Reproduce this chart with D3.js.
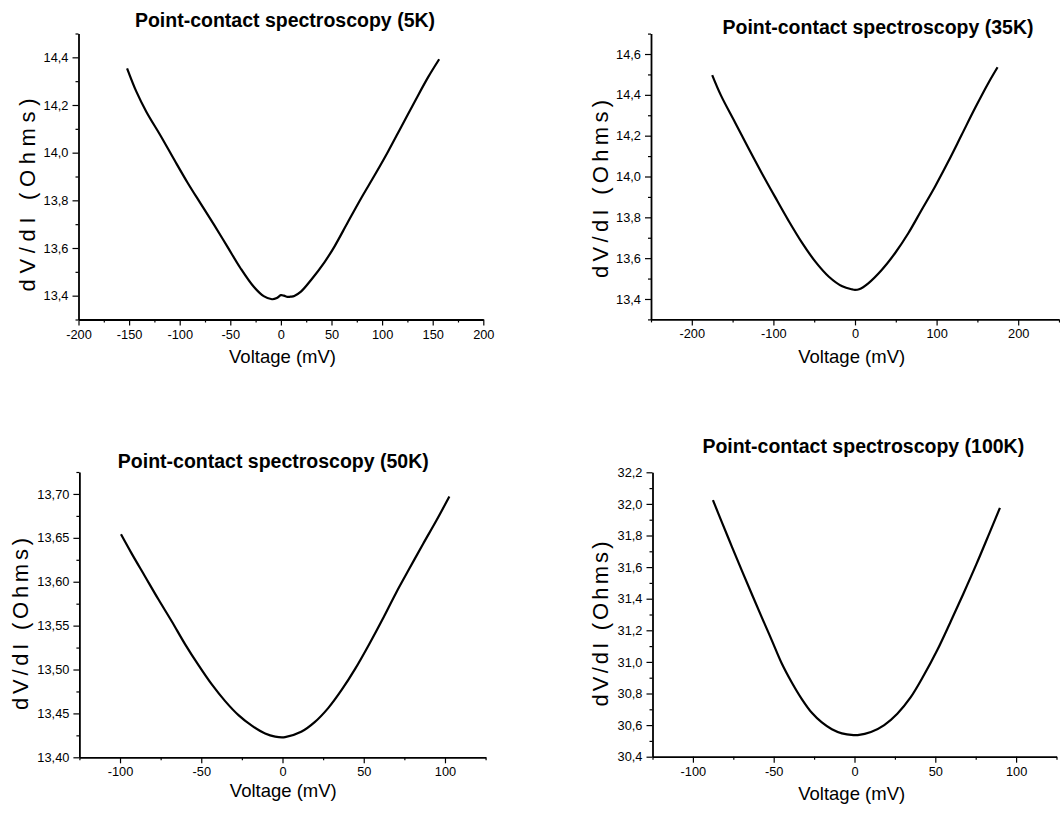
<!DOCTYPE html>
<html>
<head>
<meta charset="utf-8">
<script src="https://cdn.jsdelivr.net/npm/d3@7/dist/d3.min.js"></script>
<style>
  html, body { margin: 0; padding: 0; background: #fff; }
  svg { display: block; }
  text { font-family: "Liberation Sans", Arial, sans-serif; fill: #000; }
</style>
</head>
<body>
<svg id="chart" width="1060" height="813"></svg>
<script>
// ---- measured dV/dI curves (voltage in mV, resistance in Ohms) ----
const volt5K = [-152, -142.8, -133, -118.3, -105.2, -92.2, -79.1, -66, -52.9, -39.9, -26.8, -17, -8.8, -4, 0, 3, 6.6, 10, 13.2, 19.8, 29.8, 43, 52.9, 66.1, 79.3, 92.6, 105.8, 119, 132.2, 145.5, 156.4];
const res5K  = [14.354, 14.256, 14.172, 14.067, 13.969, 13.874, 13.785, 13.697, 13.606, 13.515, 13.437, 13.398, 13.385, 13.39, 13.402, 13.40, 13.395, 13.396, 13.399, 13.417, 13.466, 13.540, 13.606, 13.708, 13.809, 13.905, 14.004, 14.109, 14.214, 14.317, 14.392];

const volt35K = [-175, -164, -147, -131, -114, -98, -81.5, -65, -48.6, -32, -15.6, -3.3, 0, 5, 16.3, 32.7, 49, 65.3, 81.6, 98, 114.3, 130.6, 147, 163.3, 174.7];
const res35K  = [14.497, 14.395, 14.265, 14.142, 14.015, 13.900, 13.784, 13.676, 13.583, 13.509, 13.462, 13.447, 13.445, 13.448, 13.477, 13.542, 13.624, 13.722, 13.836, 13.950, 14.073, 14.203, 14.334, 14.457, 14.535];

const volt50K = [-99.4, -92.8, -84.6, -76.4, -68.2, -60, -51.7, -43.5, -35.3, -27.1, -18.9, -10.7, -4.5, 1.6, 11.5, 19.8, 28.1, 36.5, 44.8, 53.1, 61.5, 69.8, 78.1, 86.5, 94.8, 102.7];
const res50K  = [13.654, 13.632, 13.606, 13.580, 13.555, 13.529, 13.505, 13.483, 13.464, 13.448, 13.436, 13.427, 13.4235, 13.423, 13.429, 13.440, 13.456, 13.477, 13.501, 13.528, 13.557, 13.587, 13.615, 13.643, 13.670, 13.697];

const volt100K = [-87.6, -82.1, -75.9, -69.7, -63.5, -57.3, -51.1, -45, -38.8, -32.6, -26.4, -20.2, -14, -7.8, -0.6, 2, 10.2, 18.4, 26.5, 34.7, 42.9, 51, 59.2, 67.3, 75.5, 83.7, 90];
const res100K  = [32.024, 31.885, 31.730, 31.578, 31.428, 31.280, 31.135, 30.990, 30.870, 30.765, 30.678, 30.617, 30.574, 30.548, 30.537, 30.537, 30.556, 30.600, 30.672, 30.775, 30.915, 31.070, 31.248, 31.430, 31.620, 31.820, 31.975];

// ---- axis ranges and tick values ----
const xDomain5K = [-200, 200], yDomain5K = [13.3, 14.5];
const xTicks5K = [-200, -150, -100, -50, 0, 50, 100, 150, 200];
const xMinor5K = [-175, -125, -75, -25, 25, 75, 125, 175];
const yTicks5K = [13.4, 13.6, 13.8, 14.0, 14.2, 14.4];
const yMinor5K = [13.3, 13.5, 13.7, 13.9, 14.1, 14.3, 14.5];

const xDomain35K = [-250, 250], yDomain35K = [13.3, 14.7];
const xTicks35K = [-200, -100, 0, 100, 200];
const xMinor35K = [-250, -150, -50, 50, 150, 250];
const yTicks35K = [13.4, 13.6, 13.8, 14.0, 14.2, 14.4, 14.6];
const yMinor35K = [13.3, 13.5, 13.7, 13.9, 14.1, 14.3, 14.5, 14.7];

const xDomain50K = [-125, 125], yDomain50K = [13.40, 13.725];
const xTicks50K = [-100, -50, 0, 50, 100];
const xMinor50K = [-125, -75, -25, 25, 75, 125];
const yTicks50K = [13.40, 13.45, 13.50, 13.55, 13.60, 13.65, 13.70];
const yMinor50K = [13.425, 13.475, 13.525, 13.575, 13.625, 13.675, 13.725];

const xDomain100K = [-125, 125], yDomain100K = [30.4, 32.2];
const xTicks100K = [-100, -50, 0, 50, 100];
const xMinor100K = [-125, -75, -25, 25, 75, 125];
const yTicks100K = [30.4, 30.6, 30.8, 31.0, 31.2, 31.4, 31.6, 31.8, 32.0, 32.2];
const yMinor100K = [30.5, 30.7, 30.9, 31.1, 31.3, 31.5, 31.7, 31.9, 32.1];

const titles = ["Point-contact spectroscopy (5K)", "Point-contact spectroscopy (35K)",
                "Point-contact spectroscopy (50K)", "Point-contact spectroscopy (100K)"];
const xLabel = "Voltage (mV)";
const yLabel = "dV/dI (Ohms)";

// decimal comma, plain hyphen minus
const locale = d3.formatLocale({ decimal: ",", thousands: ".", grouping: [3], currency: ["", ""], minus: "-" });

const panels = [
  { x: volt5K, y: res5K, xd: xDomain5K, yd: yDomain5K, xt: xTicks5K, xm: xMinor5K, yt: yTicks5K, ym: yMinor5K,
    fmt: locale.format(".1f"), xr: [78.5, 483.3], yr: [319.5, 33.5],
    title: [285, 27], xlab: [282.5, 363], ylab: [35, 195, 193] },
  { x: volt35K, y: res35K, xd: xDomain35K, yd: yDomain35K, xt: xTicks35K, xm: xMinor35K, yt: yTicks35K, ym: yMinor35K,
    fmt: locale.format(".1f"), xr: [651, 1059], yr: [319.4, 33.6],
    title: [878, 34], xlab: [851.7, 363.3], ylab: [608, 189, 178] },
  { x: volt50K, y: res50K, xd: xDomain50K, yd: yDomain50K, xt: xTicks50K, xm: xMinor50K, yt: yTicks50K, ym: yMinor50K,
    fmt: locale.format(".2f"), xr: [79.4, 485.6], yr: [757.3, 472],
    title: [273.3, 468], xlab: [283.3, 796.7], ylab: [28, 624, 172] },
  { x: volt100K, y: res100K, xd: xDomain100K, yd: yDomain100K, xt: xTicks100K, xm: xMinor100K, yt: yTicks100K, ym: yMinor100K,
    fmt: locale.format(".1f"), xr: [652.5, 1056.5], yr: [756.7, 472.3],
    title: [863.3, 453], xlab: [851.7, 800], ylab: [608, 624, 165] }
];

const svg = d3.select("#chart");
const intFmt = locale.format("d");

panels.forEach((p, i) => {
  const g = svg.append("g");
  const xs = d3.scaleLinear().domain(p.xd).range(p.xr);
  const ys = d3.scaleLinear().domain(p.yd).range(p.yr);
  const x0 = p.yr[0], y0 = p.xr[0];

  // minor ticks
  g.append("g").attr("transform", `translate(0,${x0})`)
    .call(d3.axisBottom(xs).tickValues(p.xm).tickSize(3).tickSizeOuter(0).tickFormat(""))
    .call(a => a.select(".domain").remove());
  g.append("g").attr("transform", `translate(${y0},0)`)
    .call(d3.axisLeft(ys).tickValues(p.ym).tickSize(3).tickSizeOuter(0).tickFormat(""))
    .call(a => a.select(".domain").remove());

  // major ticks with labels
  const xa = g.append("g").attr("transform", `translate(0,${x0})`)
    .call(d3.axisBottom(xs).tickValues(p.xt).tickSize(6).tickSizeOuter(0).tickPadding(4).tickFormat(intFmt));
  const ya = g.append("g").attr("transform", `translate(${y0},0)`)
    .call(d3.axisLeft(ys).tickValues(p.yt).tickSize(6).tickSizeOuter(0).tickPadding(4).tickFormat(p.fmt));

  g.selectAll(".tick line").attr("stroke", "#000").attr("stroke-width", 1.2);
  g.selectAll(".domain").attr("stroke", "#000").attr("stroke-width", 1.8);
  [xa, ya].forEach(a => a.selectAll("text")
    .attr("font-size", 12.8)
    .attr("font-family", "Liberation Sans, Arial, sans-serif")
    .attr("fill", "#000"));

  // curve
  const pts = p.x.map((v, k) => [v, p.y[k]]);
  g.append("path")
    .datum(pts)
    .attr("fill", "none")
    .attr("stroke", "#000")
    .attr("stroke-width", 2.2)
    .attr("stroke-linejoin", "round")
    .attr("d", d3.line().x(d => xs(d[0])).y(d => ys(d[1])).curve(d3.curveCatmullRom.alpha(0.5)));

  // title
  g.append("text")
    .attr("x", p.title[0]).attr("y", p.title[1])
    .attr("text-anchor", "middle")
    .attr("font-size", 19.5).attr("font-weight", "bold")
    .text(titles[i]);

  // x label
  g.append("text")
    .attr("x", p.xlab[0]).attr("y", p.xlab[1])
    .attr("text-anchor", "middle")
    .attr("font-size", 18.5)
    .text(xLabel);

  // y label, letter-spaced
  g.append("text")
    .attr("transform", `translate(${p.ylab[0]},${p.ylab[1]}) rotate(-90)`)
    .attr("text-anchor", "middle")
    .attr("font-size", 22)
    .attr("textLength", p.ylab[2])
    .attr("lengthAdjust", "spacing")
    .text(yLabel);
});
</script>
</body>
</html>
